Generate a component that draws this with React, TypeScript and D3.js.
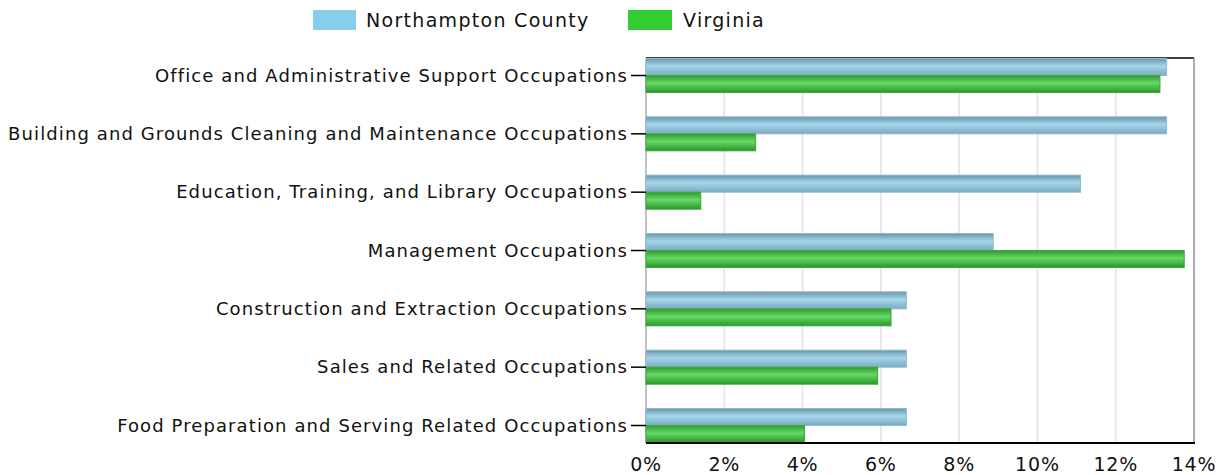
import React from "react";
import * as d3 from "d3";

const categories = [
  "Office and Administrative Support Occupations",
  "Building and Grounds Cleaning and Maintenance Occupations",
  "Education, Training, and Library Occupations",
  "Management Occupations",
  "Construction and Extraction Occupations",
  "Sales and Related Occupations",
  "Food Preparation and Serving Related Occupations",
];
const northampton = [13.3, 13.3, 11.1, 8.87, 6.65, 6.65, 6.65];
const virginia = [13.13, 2.8, 1.4, 13.75, 6.26, 5.92, 4.05];
const seriesNames = ["Northampton County", "Virginia"];
const ticks = [0, 2, 4, 6, 8, 10, 12, 14];

const W = 1229;
const H = 475;
const left = 646;
const right = 1194;
const top = 58;
const bottom = 443;
const font = "Verdana, 'DejaVu Sans', sans-serif";

export default function App() {
  const x = d3.scaleLinear().domain([0, 14]).range([left, right]);
  const y = d3.scalePoint<string>().domain(categories).range([75.5, 425.5]);
  const barH = 17;

  return (
    <svg width={W} height={H} style={{ position: "absolute", left: 0, top: 0 }}>
      <defs>
        <linearGradient id="gBlue" x1="0" y1="0" x2="0" y2="1">
          <stop offset="0" stopColor="#6896ac" />
          <stop offset="0.45" stopColor="#a6d6eb" />
          <stop offset="1" stopColor="#7aaac0" />
        </linearGradient>
        <linearGradient id="gGreen" x1="0" y1="0" x2="0" y2="1">
          <stop offset="0" stopColor="#2f9a2f" />
          <stop offset="0.45" stopColor="#66d966" />
          <stop offset="1" stopColor="#2b952b" />
        </linearGradient>
      </defs>
      <rect width={W} height={H} fill="#fff" />

      {/* legend */}
      <g fontFamily={font} fontSize={19} fill="#111" letterSpacing={1.3}>
        <rect x={313} y={10} width={43} height={20} fill="#87ceeb" />
        <text x={366} y={27}>{seriesNames[0]}</text>
        <rect x={628} y={10} width={44} height={20} fill="#32cd32" />
        <text x={683} y={27}>{seriesNames[1]}</text>
      </g>

      {/* grid */}
      {ticks.map((t) => (
        <line key={t} x1={x(t)} x2={x(t)} y1={top} y2={bottom} stroke="#e2e0f2" strokeWidth={1.5} />
      ))}
      <line x1={left} x2={right} y1={top} y2={top} stroke="#000" strokeWidth={1.5} />
      <line x1={right} x2={right} y1={top} y2={bottom} stroke="#999" strokeWidth={1.5} />
      <line x1={left} x2={left} y1={top} y2={bottom} stroke="#999" strokeWidth={1} />

      {/* bars */}
      {categories.map((c, i) => {
        const cy = y(c) as number;
        return (
          <g key={c}>
            <rect x={x(0)} y={cy - barH} width={x(northampton[i]) - x(0)} height={barH}
              fill="url(#gBlue)" stroke="#8fb8cc" strokeWidth={1} />
            <rect x={x(0)} y={cy} width={x(virginia[i]) - x(0)} height={barH}
              fill="url(#gGreen)" stroke="#3aa83a" strokeWidth={1} />
          </g>
        );
      })}

      {/* y axis labels and ticks */}
      {categories.map((c) => {
        const cy = y(c) as number;
        return (
          <g key={c}>
            <line x1={631} x2={left} y1={cy} y2={cy} stroke="#000" strokeWidth={1.5} />
            <text x={628} y={cy + 6} textAnchor="end" fontFamily={font} fontSize={18}
              letterSpacing={1.1} fill="#111">{c}</text>
          </g>
        );
      })}

      {/* x axis */}
      <line x1={left} x2={right + 1} y1={bottom} y2={bottom} stroke="#000" strokeWidth={2} />
      {ticks.map((t) => (
        <text key={t} x={x(t)} y={471} textAnchor="middle" fontFamily={font} fontSize={19}
          letterSpacing={0.8} fill="#111">
          {t}%
        </text>
      ))}
    </svg>
  );
}
